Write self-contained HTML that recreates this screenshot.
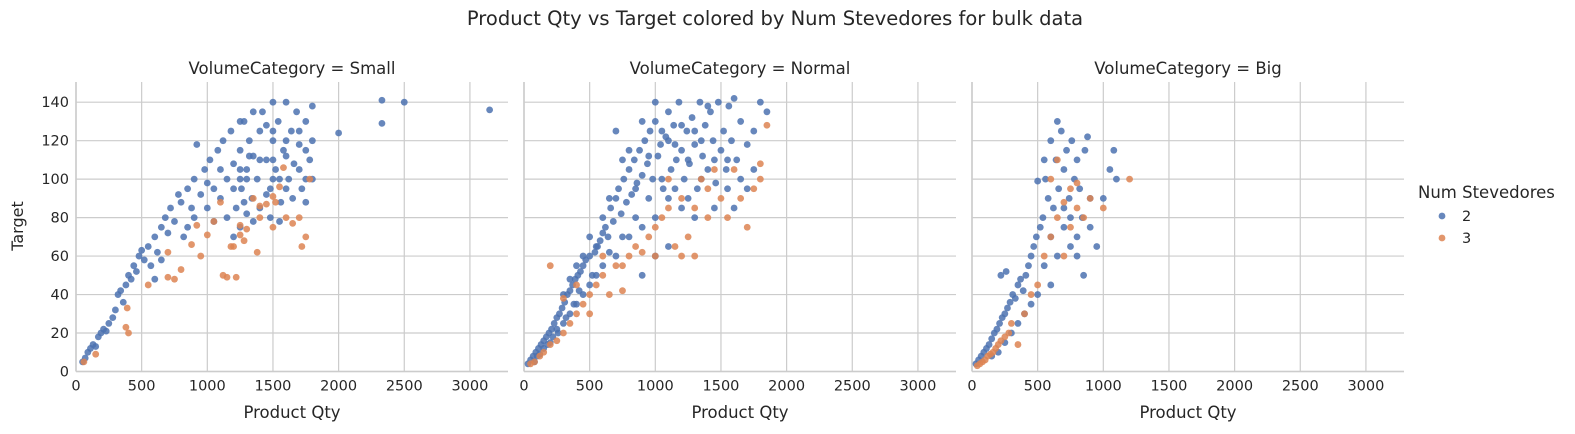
<!DOCTYPE html>
<html><head><meta charset="utf-8">
<style>
html,body{margin:0;padding:0;background:#fff;}
svg{display:block;font-family:"DejaVu Sans","Liberation Sans",sans-serif;}
</style></head>
<body>
<svg id="chart" width="1575" height="434" viewBox="0 0 1575 434" xmlns="http://www.w3.org/2000/svg">
<text x="775" y="25" text-anchor="middle" font-size="19.5" fill="#262626">Product Qty vs Target colored by Num Stevedores for bulk data</text>
<text transform="translate(23,226) rotate(-90)" text-anchor="middle" font-size="16" fill="#262626">Target</text>
<text x="1418" y="198" font-size="16.5" fill="#262626">Num Stevedores</text>
<circle cx="1442" cy="216" r="3.4" fill="#4c72b0" fill-opacity="0.85"/>
<text x="1462" y="221" font-size="14.5" fill="#262626">2</text>
<circle cx="1442" cy="238" r="3.4" fill="#dd8452" fill-opacity="0.85"/>
<text x="1462" y="243" font-size="14.5" fill="#262626">3</text>
</svg>
<script>
const panelTitles = ["VolumeCategory = Small","VolumeCategory = Normal","VolumeCategory = Big"];
const xTicks = [0,500,1000,1500,2000,2500,3000];
const yTicks = [0,20,40,60,80,100,120,140];
const smallBlue = [[50,5],[70,7],[90,10],[110,12],[130,14],[150,13],[170,18],[190,20],[210,22],[230,21],[250,25],[280,28],[300,32],[320,40],[340,42],[360,36],[380,45],[400,50],[420,48],[440,55],[460,52],[480,60],[500,63],[520,58],[550,65],[570,55],[600,70],[620,62],[650,75],[680,80],[700,72],[720,85],[750,78],[780,92],[800,88],[820,70],[850,95],[880,85],[900,100],[920,118],[950,92],[980,105],[1000,98],[1020,110],[1050,95],[1080,115],[1100,90],[1120,120],[1150,100],[1180,125],[1200,108],[1220,85],[1250,115],[1260,95],[1280,130],[1300,105],[1320,120],[1340,90],[1350,112],[1380,100],[1400,125],[1420,135],[1450,110],[1480,95],[1500,140],[1500,120],[1520,105],[1540,130],[1560,88],[1580,115],[1600,140],[1620,100],[1640,125],[1660,108],[1680,135],[1700,118],[1720,95],[1750,130],[1780,110],[1800,138],[1800,120],[1800,100],[1250,75],[1300,82],[1350,78],[1200,70],[1150,80],[1400,85],[1450,92],[1550,100],[1650,90],[1700,105],[1100,105],[1350,135],[1450,128],[1600,112],[1750,88],[2000,124],[2330,141],[2330,129],[2500,140],[3150,136],[1000,85],[900,80],[850,75],[600,48],[650,58],[1050,78],[1200,95],[1300,100],[1400,110],[1500,100],[1600,95],[1250,130],[1700,125],[1550,78],[1480,80],[1250,105],[1280,88],[1320,112],[1500,125],[1500,110],[1750,115],[1750,100],[1250,100],[1600,120]];
const smallOrange = [[60,5],[150,9],[400,20],[380,23],[390,33],[550,45],[700,49],[750,48],[800,53],[880,66],[950,60],[1000,71],[1050,78],[1100,88],[1120,50],[1150,49],[1180,65],[1200,65],[1220,49],[1250,76],[1280,68],[1300,74],[1350,90],[1380,62],[1400,80],[1450,87],[1500,75],[1520,88],[1550,96],[1580,106],[1600,80],[1650,77],[1700,80],[1720,65],[1750,70],[1780,100],[1500,91],[1250,71],[1400,86],[700,62],[920,76]];
const normalBlue = [[30,4],[50,6],[70,8],[90,10],[110,12],[130,14],[150,16],[170,18],[190,20],[210,22],[230,25],[250,28],[270,30],[290,33],[310,36],[330,40],[350,42],[370,45],[390,48],[410,50],[430,52],[450,55],[470,58],[500,60],[520,50],[540,62],[560,65],[580,68],[600,72],[620,75],[640,70],[660,85],[680,78],[700,90],[720,95],[740,82],[760,100],[780,88],[800,105],[820,92],[840,110],[860,98],[880,115],[900,102],[920,120],[940,108],[960,125],[980,100],[1000,130],[1020,112],[1040,118],[1060,95],[1080,122],[1100,135],[1120,105],[1140,128],[1160,110],[1180,140],[1200,115],[1220,100],[1240,125],[1260,108],[1280,132],[1300,118],[1320,95],[1340,140],[1360,112],[1380,128],[1400,105],[1420,135],[1440,120],[1460,98],[1480,140],[1500,115],[1520,125],[1540,105],[1560,138],[1580,120],[1600,142],[1620,110],[1650,130],[1700,118],[1750,125],[1800,140],[1850,135],[1650,100],[1700,95],[1450,85],[1300,80],[1200,85],[1100,90],[1000,80],[900,75],[800,70],[700,60],[600,55],[500,45],[400,35],[300,25],[200,15],[150,12],[100,8],[250,22],[350,30],[450,40],[550,50],[650,62],[750,70],[850,80],[950,90],[1050,100],[1150,95],[1250,110],[1350,100],[1550,110],[1750,105],[900,130],[800,115],[700,125],[1000,140],[1100,120],[1200,128],[1400,138],[1300,125],[600,80],[500,70],[400,55],[300,40],[900,50],[1000,60],[1100,65],[750,110],[650,90],[550,65],[350,48],[450,60],[850,95],[950,112],[1050,125],[1150,118],[1250,90],[1350,120],[1450,110],[1550,95],[1600,85],[80,5],[120,9],[180,14],[220,18],[260,20],[320,28],[380,35],[420,42]];
const normalOrange = [[50,4],[80,5],[120,8],[150,10],[200,14],[250,16],[300,20],[350,25],[400,30],[450,35],[500,40],[550,45],[600,50],[650,40],[700,55],[750,42],[800,60],[850,65],[900,62],[950,70],[1000,75],[1050,80],[1100,85],[1150,65],[1200,90],[1250,70],[1300,85],[1350,100],[1400,95],[1450,105],[1500,90],[1550,80],[1600,105],[1650,90],[1700,75],[1750,95],[1800,100],[1850,128],[1800,108],[1300,60],[1200,60],[1000,60],[750,55],[600,60],[500,30],[400,45],[200,55],[300,38],[1100,100],[1400,80]];
const bigBlue = [[30,4],[50,6],[70,8],[90,10],[110,12],[130,14],[150,17],[170,20],[190,22],[210,25],[230,28],[250,30],[270,33],[290,36],[310,40],[330,38],[350,45],[370,48],[390,42],[410,50],[430,55],[450,60],[470,65],[490,70],[500,99],[520,75],[540,80],[560,100],[580,90],[600,120],[620,85],[640,110],[660,95],[680,125],[700,105],[720,115],[740,90],[760,120],[780,100],[800,110],[820,95],[840,80],[860,115],[880,122],[900,90],[950,65],[1000,90],[1050,105],[1080,115],[1100,100],[600,70],[650,60],[700,75],[750,65],[800,60],[850,50],[600,45],[550,55],[500,40],[450,35],[400,30],[350,25],[300,20],[250,15],[200,10],[150,8],[220,50],[260,52],[650,130],[700,85],[750,80],[800,70],[900,75],[550,110]];
const bigOrange = [[40,3],[60,4],[80,5],[100,6],[120,8],[140,9],[160,10],[180,12],[200,14],[220,16],[250,18],[280,20],[300,25],[350,14],[400,30],[450,40],[500,45],[550,60],[600,70],[650,80],[700,88],[750,95],[800,85],[850,80],[900,90],[1000,85],[1200,100],[600,100],[700,60],[650,110],[750,75],[800,98]];
const panelSeries = [[smallBlue,smallOrange],[normalBlue,normalOrange],[bigBlue,bigOrange]];
const seriesColors = ["#4c72b0","#dd8452"];
const seriesNames = ["2","3"];

(function(){
const NS="http://www.w3.org/2000/svg";
const svg=document.getElementById('chart');
const panelLeft=[76,524,972], panelW=432, plotTop=82, plotBottom=371.5;
const xMax=3290, yMax=150.5;
function mk(tag,attrs,parent){const e=document.createElementNS(NS,tag);for(const k in attrs)e.setAttribute(k,attrs[k]);(parent||svg).appendChild(e);return e;}
panelTitles.forEach((t,p)=>{
  const L=panelLeft[p];
  const xs=v=>L+v/xMax*panelW;
  const ys=v=>plotBottom-v/yMax*(plotBottom-plotTop);
  const g=mk('g',{});
  
  
  xTicks.forEach(v=>{
    const l=mk('line',{x1:xs(v),x2:xs(v),y1:plotTop,y2:plotBottom,stroke:'#cccccc','stroke-width':1.2},g);
    
    
    const tx=mk('text',{x:xs(v),y:plotBottom+19,'text-anchor':'middle','font-size':14.5,fill:'#262626'},g);
    
    
    tx.textContent=v;
  });
  yTicks.forEach(v=>{
    const l=mk('line',{x1:L,x2:L+panelW,y1:ys(v),y2:ys(v),stroke:'#cccccc','stroke-width':1.2},g);
    
    
    if(p===0){
      const tx=mk('text',{x:L-7,y:ys(v)+5,'text-anchor':'end','font-size':14.5,fill:'#262626'},g);
      
      
      tx.textContent=v;
    }
  });
  const sl=mk('line',{x1:L,x2:L,y1:plotTop,y2:plotBottom,stroke:'#cccccc','stroke-width':1.6},g);
  
  
  const sb=mk('line',{x1:L,x2:L+panelW,y1:plotBottom,y2:plotBottom,stroke:'#cccccc','stroke-width':1.6},g);
  
  
  const pt=mk('text',{x:L+panelW/2,y:74,'text-anchor':'middle','font-size':16.5,fill:'#262626'},g);
  
  
  pt.textContent=t;
  const xl=mk('text',{x:L+panelW/2,y:418,'text-anchor':'middle','font-size':16.5,fill:'#262626'},g);
  
  
  xl.textContent='Product Qty';
  panelSeries[p].forEach((pts,s)=>{
    pts.forEach(d=>{
      const c=mk('circle',{cx:xs(d[0]),cy:ys(d[1]),r:3.4,fill:seriesColors[s],'fill-opacity':0.85},g);
      
      
    });
  });
});
})();
</script>
</body></html>
